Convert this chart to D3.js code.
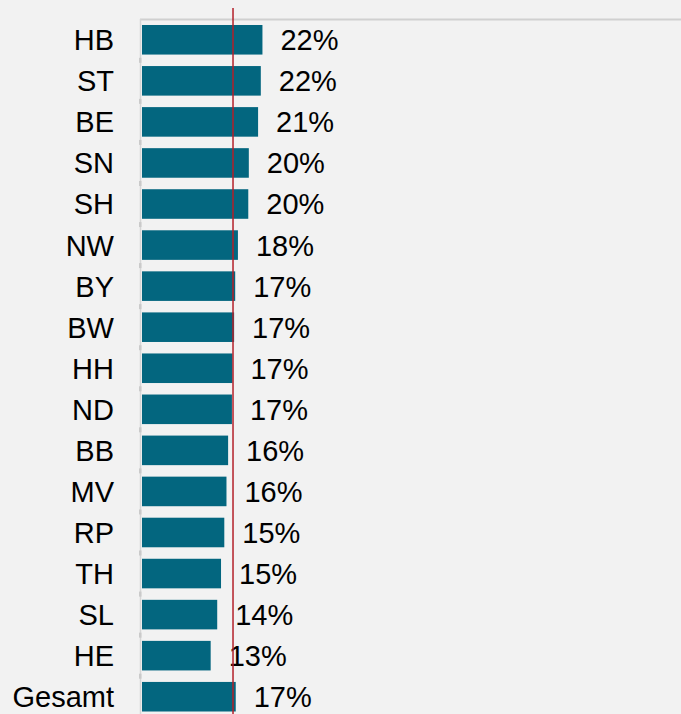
<!DOCTYPE html>
<html>
<head>
<meta charset="utf-8">
<script src="https://cdn.jsdelivr.net/npm/d3@7/dist/d3.min.js"></script>
<style>
  html, body { margin: 0; padding: 0; background: #f2f2f2; }
  svg { display: block; }
</style>
</head>
<body>
<script>
// Anteile je Bundesland (in Prozent)
const laender = ["HB", "ST", "BE", "SN", "SH", "NW", "BY", "BW", "HH", "ND", "BB", "MV", "RP", "TH", "SL", "HE", "Gesamt"];
const anteile = [22.1, 21.8, 21.3, 19.6, 19.5, 17.6, 17.1, 16.9, 16.6, 16.5, 15.8, 15.5, 15.1, 14.5, 13.8, 12.6, 17.2];
// Referenzlinie
const referenzwert = 16.7;

const width = 681, height = 714;
const svg = d3.select("body").append("svg")
  .attr("width", width).attr("height", height);

svg.append("rect").attr("width", width).attr("height", height).attr("fill", "#f2f2f2");

const x = d3.scaleLinear().domain([0, 100]).range([142, 687]);
const y = d3.scaleBand().domain(laender).range([19, 717.5])
  .paddingInner(0.28).paddingOuter(0.146);

const fontFamily = "'Liberation Sans', Arial, sans-serif";

// Rahmen oben und links
svg.append("line")
  .attr("x1", 140).attr("x2", width).attr("y1", 19.5).attr("y2", 19.5)
  .attr("stroke", "#d0d0d0").attr("stroke-width", 2);
svg.append("line")
  .attr("x1", 140.5).attr("x2", 140.5).attr("y1", 19).attr("y2", height)
  .attr("stroke", "#d6d6d6").attr("stroke-width", 1.5);

// Kleine Teilstriche zwischen den Kategorien
const grenzen = laender.slice(1).map(d => y(d) - y.step() * y.paddingInner() / 2);
svg.selectAll("line.tick").data(grenzen).enter().append("line")
  .attr("class", "tick")
  .attr("x1", 139).attr("x2", 141.5)
  .attr("y1", d => d).attr("y2", d => d)
  .attr("stroke", "#cacaca").attr("stroke-width", 5);

const daten = laender.map((l, i) => ({ land: l, wert: anteile[i] }));

// Balken
svg.selectAll("rect.bar").data(daten).enter().append("rect")
  .attr("class", "bar")
  .attr("x", x(0))
  .attr("y", d => y(d.land))
  .attr("width", d => x(d.wert) - x(0))
  .attr("height", y.bandwidth())
  .attr("fill", "#03667f");

// Kategorienbeschriftung
svg.selectAll("text.cat").data(daten).enter().append("text")
  .attr("class", "cat")
  .attr("x", 114)
  .attr("y", d => y(d.land) + y.bandwidth() / 2)
  .attr("dy", "0.36em")
  .attr("text-anchor", "end")
  .attr("font-family", fontFamily)
  .attr("font-size", 29)
  .attr("fill", "#000")
  .text(d => d.land);

// Wertebeschriftung
svg.selectAll("text.val").data(daten).enter().append("text")
  .attr("class", "val")
  .attr("x", d => x(d.wert) + 18)
  .attr("y", d => y(d.land) + y.bandwidth() / 2)
  .attr("dy", "0.36em")
  .attr("font-family", fontFamily)
  .attr("font-size", 29)
  .attr("fill", "#000")
  .text(d => Math.round(d.wert) + "%");

// Referenzlinie
svg.append("line")
  .attr("x1", x(referenzwert)).attr("x2", x(referenzwert))
  .attr("y1", 8).attr("y2", height)
  .attr("stroke", "#b3202a").attr("stroke-width", 1.5);
</script>
</body>
</html>
